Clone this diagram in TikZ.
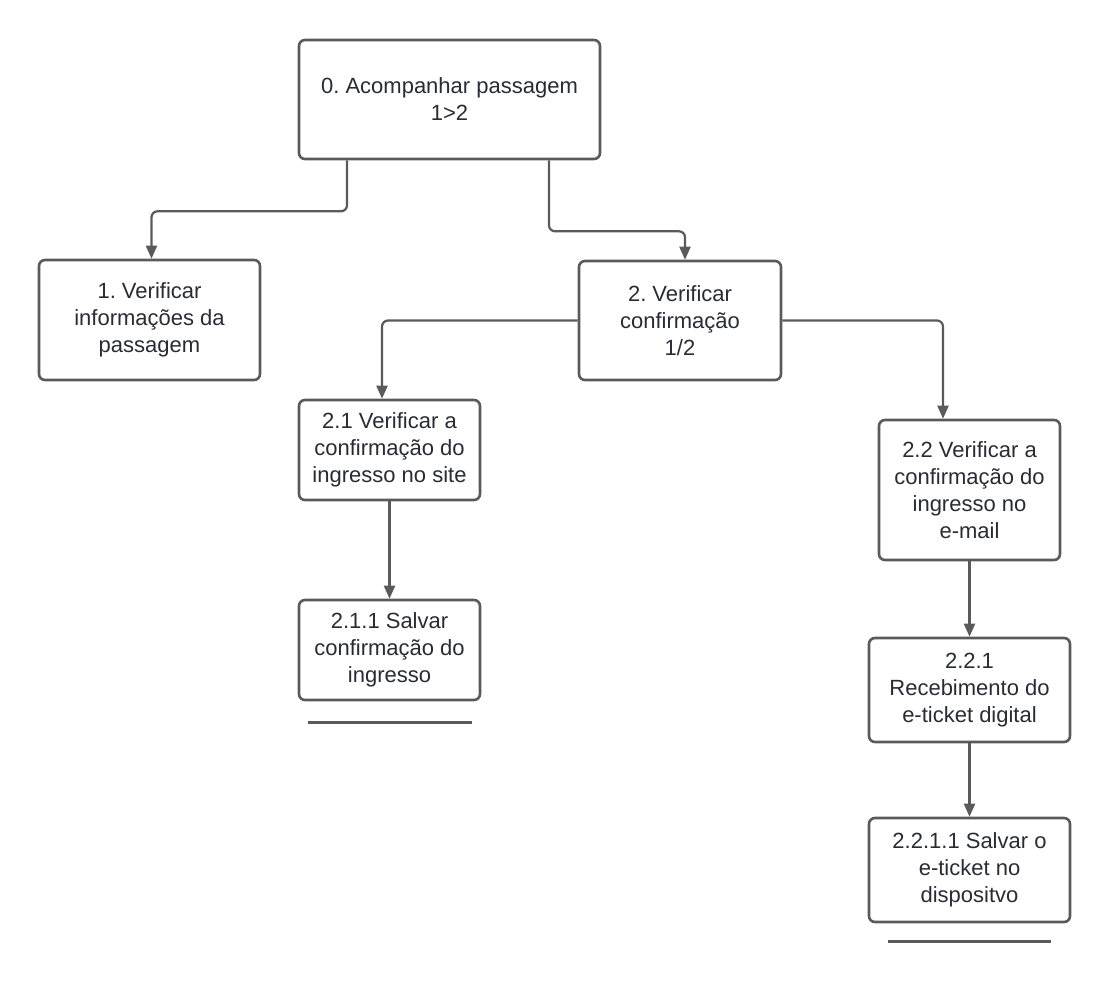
\documentclass[tikz,border=0pt]{standalone}
\usepackage{fontspec}
\setmainfont{Liberation Sans}
\usetikzlibrary{arrows.meta}
\definecolor{edge}{HTML}{5A5A5A}
\definecolor{ink}{HTML}{282C34}
\frenchspacing
\begin{document}
\begin{tikzpicture}[x=1pt,y=-1pt,
  box/.style={draw=edge, line width=2.6pt, rounded corners=6pt, fill=white,
    rectangle, inner sep=0pt, align=center, text=ink,
    font=\fontsize{22}{27}\selectfont},
  conn/.style={draw=edge, line width=2.2pt, rounded corners=6pt,
    -{Triangle[length=13pt,width=11pt]}},
  uline/.style={draw=edge, line width=3pt}]
\useasboundingbox (0,0) rectangle (1110,983);

\node[box, minimum width=301pt, minimum height=119pt] (b0) at (449.5,99.5)
  {0. Acompanhar passagem\\1>2};
\node[box, minimum width=221pt, minimum height=120pt] (b1) at (149.5,320)
  {1. Verificar\\informações da\\passagem};
\node[box, minimum width=202pt, minimum height=119pt] (b2) at (680,320.5)
  {2. Verificar\\confirmação\\1/2};
\node[box, minimum width=181pt, minimum height=100pt] (b21) at (389.5,450)
  {2.1 Verificar a\\confirmação do\\ingresso no site};
\node[box, minimum width=181pt, minimum height=100pt] (b211) at (389.5,650)
  {2.1.1 Salvar\\confirmação do\\ingresso};
\node[box, minimum width=181pt, minimum height=140pt] (b22) at (969.5,490)
  {2.2 Verificar a\\confirmação do\\ingresso no\\e-mail};
\node[box, minimum width=201pt, minimum height=104pt] (b221) at (969.5,690)
  {2.2.1\\Recebimento do\\e-ticket digital};
\node[box, minimum width=201pt, minimum height=104pt] (b2211) at (969.5,870)
  {2.2.1.1 Salvar o\\e-ticket no\\dispositvo};

\draw[conn] ([xshift=-102.5pt]b0.south) -- ++(0,51) -| ([xshift=2pt]b1.north);
\draw[conn] ([xshift=99.5pt]b0.south) -- ++(0,71) -| ([xshift=5pt]b2.north);
\draw[conn] (b2.west) -| ([xshift=-7.5pt]b21.north);
\draw[conn] (b2.east) -| ([xshift=-26.5pt]b22.north);
\draw[conn] (b21.south) -- (b211.north);
\draw[conn] (b22.south) -- (b221.north);
\draw[conn] (b221.south) -- (b2211.north);

\draw[uline] (308,722) -- (472,722);
\draw[uline] (888,941) -- (1051,941);
\end{tikzpicture}
\end{document}
